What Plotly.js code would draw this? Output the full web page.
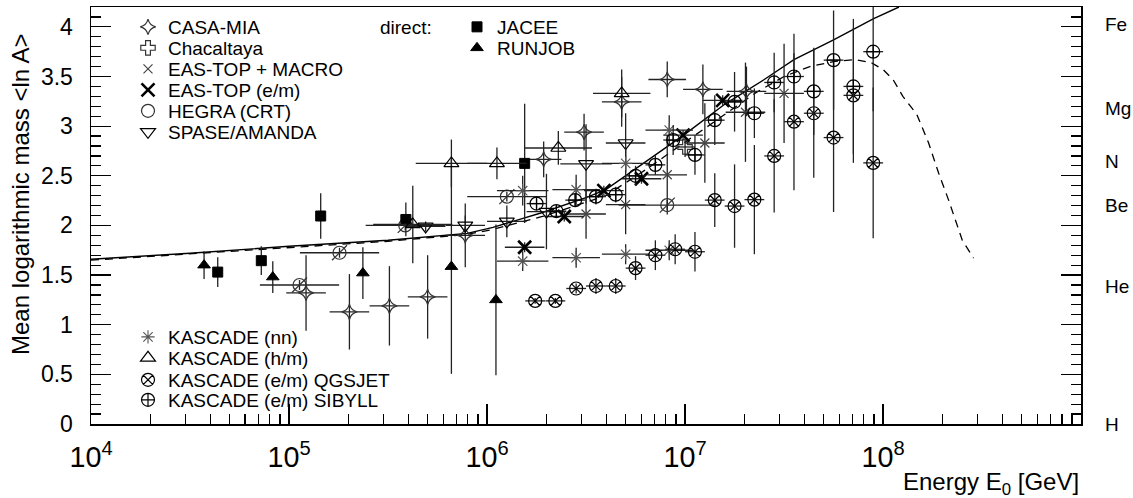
<!DOCTYPE html>
<html><head><meta charset="utf-8">
<script src="https://cdn.plot.ly/plotly-3.0.1.min.js"></script>
<style>html,body{margin:0;padding:0;background:#fff}#chart{width:1133px;height:498px}</style>
</head><body><div id="chart"></div>
<script>
// ---- data (log10 of energy in GeV, mean ln A, half-widths) ----
const casaLogE = [5.086, 5.305, 5.507, 5.70, 5.89, 6.286, 6.49, 6.68, 6.91, 7.09, 7.31];
const casaLnA  = [1.32, 1.13, 1.19, 1.28, 1.90, 2.665, 2.94, 3.245, 3.47, 3.37, 3.35];
const casaDx   = [0.1, 0.1, 0.1, 0.1, 0.1, 0.09, 0.1, 0.1, 0.095, 0.1, 0.1];
const casaDy   = [0.38, 0.38, 0.40, 0.42, 0.32, 0.18, 0.185, 0.25, 0.18, 0.25, 0.25];

const chacLogE = [7.0];
const chacLnA  = [2.79];
const chacDx   = [0.05];
const chacDy   = [0.1];

const macroLogE = [6.50, 6.70, 6.91, 7.10, 7.305, 7.50];
const macroLnA  = [2.115, 2.21, 2.51, 2.83, 3.14, 3.33];
const macroDx   = [0.1, 0.1, 0.1, 0.1, 0.1, 0.1];
const macroDy   = [0.25, 0.3, 0.4, 0.4, 0.5, 0.5];

const emLogE = [6.19, 6.39, 6.59, 6.78, 6.99, 7.19];
const emLnA  = [1.78, 2.09, 2.35, 2.47, 2.91, 3.26];
const emDx   = [0.1, 0.1, 0.1, 0.1, 0.1, 0.1];
const emDy   = [0.05, 0.05, 0.05, 0.05, 0.05, 0.05];

const hegraLogE = [5.053, 5.255, 5.587, 6.10, 6.91];
const hegraLnA  = [1.40, 1.725, 2.0, 2.29, 2.205];
const hegraDx   = [0.2, 0.2, 0.2, 0.2, 0.245];
const hegraDy   = [0.05, 0.05, 0.05, 0.05, 0.05];

const spaseLogE = [5.69, 5.89, 6.10, 6.30, 6.50, 6.70];
const spaseLnA  = [1.99, 2.0, 2.04, 2.14, 2.62, 2.83];
const spaseDx   = [0.1, 0.1, 0.1, 0.1, 0.13, 0.1];
const spaseDy   = [0.05, 0.1, 0.16, 0.38, 0.4, 0.3];

const jaceeLogE = [4.64, 4.86, 5.16, 5.59, 6.19];
const jaceeLnA  = [1.53, 1.645, 2.095, 2.06, 2.625];
const jaceeDy   = [0.15, 0.145, 0.23, 0.17, 0.6];

const runjobLogE = [4.571, 4.918, 5.373, 5.82, 6.045];
const runjobLnA  = [1.60, 1.48, 1.52, 1.585, 1.25];
const runjobDy   = [0.14, 0.16, 0.26, 1.08, 0.76];

const nnLogE = [6.18, 6.45, 6.70, 6.92, 6.18, 6.45, 6.70, 6.92];
const nnLnA  = [2.35, 2.36, 2.625, 2.96, 1.64, 1.675, 1.71, 1.75];
const nnDx   = [0.13, 0.12, 0.12, 0.12, 0.13, 0.12, 0.12, 0.12];
const nnDy   = [0.15, 0.15, 0.15, 0.15, 0.1, 0.1, 0.1, 0.1];

const hmLogE = [5.625, 5.82, 6.05, 6.36, 6.68];
const hmLnA  = [2.01, 2.625, 2.625, 2.78, 3.33];
const hmDx   = [0.2, 0.18, 0.15, 0.17, 0.145];
const hmDy   = [0.39, 0.24, 0.16, 0.17, 0.24];

const qgsLogE = [6.243, 6.345, 6.45, 6.55, 6.65, 6.75, 6.85, 6.95, 7.05, 7.15, 7.25, 7.35, 7.45, 7.55, 7.65, 7.75, 7.85, 7.95];
const qgsLnA  = [1.24, 1.24, 1.365, 1.39, 1.39, 1.57, 1.70, 1.76, 1.735, 2.255, 2.195, 2.26, 2.70, 3.045, 3.13, 2.885, 3.31, 2.63];
const qgsDy   = [0.03, 0.03, 0.05, 0.08, 0.08, 0.12, 0.15, 0.15, 0.2, 0.27, 0.42, 0.55, 0.57, 0.69, 0.65, 0.75, 0.68, 0.76];

const sibLogE = [6.25, 6.35, 6.445, 6.55, 6.65, 6.75, 6.85, 6.94, 7.05, 7.15, 7.25, 7.35, 7.45, 7.55, 7.65, 7.75, 7.85, 7.95];
const sibLnA  = [2.22, 2.145, 2.255, 2.29, 2.31, 2.50, 2.61, 2.86, 2.71, 3.06, 3.245, 3.13, 3.44, 3.50, 3.35, 3.665, 3.40, 3.75];
const sibDy   = [0.05, 0.05, 0.06, 0.08, 0.08, 0.1, 0.1, 0.15, 0.2, 0.25, 0.3, 0.25, 0.3, 0.43, 0.44, 0.5, 0.68, 0.6];

const emHalfWidth = 0.05;

const solidLogE = [4.0, 4.5, 5.0, 5.5, 5.9, 6.03, 6.28, 6.5, 6.6, 6.8, 7.0, 7.2, 7.4, 7.55, 7.75, 7.95, 8.05, 8.08];
const solidLnA  = [1.66, 1.72, 1.79, 1.85, 1.92, 1.98, 2.13, 2.28, 2.36, 2.64, 2.92, 3.22, 3.47, 3.67, 3.87, 4.08, 4.17, 4.2];
const dashLogE = [4.0, 5.0, 5.5, 5.9, 6.03, 6.28, 6.5, 6.6, 6.8, 7.0, 7.2, 7.36, 7.5, 7.63, 7.75, 7.86, 7.94, 8.0, 8.05, 8.1, 8.17, 8.23, 8.28, 8.33, 8.4, 8.457];
const dashLnA  = [1.65, 1.78, 1.84, 1.91, 1.96, 2.09, 2.23, 2.30, 2.56, 2.84, 3.12, 3.34, 3.5, 3.6, 3.65, 3.67, 3.64, 3.57, 3.47, 3.3, 3.12, 2.83, 2.53, 2.26, 1.85, 1.67];

const elemNames = ["H", "He", "Be", "N", "Mg", "Fe"];
const elemLnA   = [0, 1.386, 2.197, 2.639, 3.178, 4.025];

// ---- helpers ----
const toE = a => a.map(v => Math.pow(10, v));
function errX(logE, dx) {
  const d = Array.isArray(dx) ? dx : logE.map(() => dx);
  return {
    type: 'data', symmetric: false,
    array: logE.map((v, i) => Math.pow(10, v + d[i]) - Math.pow(10, v)),
    arrayminus: logE.map((v, i) => Math.pow(10, v) - Math.pow(10, v - d[i])),
    width: 0, thickness: 1.3, color: '#222'
  };
}
function errY(dy) { return {type: 'data', array: dy, width: 0, thickness: 1.3, color: '#222'}; }
function pts(name, logE, lnA, dx, dy, symbol, size, color, lw, legend, show) {
  const t = {
    type: 'scatter', mode: 'markers', name: name,
    x: toE(logE), y: lnA,
    marker: {symbol: symbol, size: size, color: color, line: {color: color, width: lw}},
    legend: legend, showlegend: show !== false, hoverinfo: 'skip'
  };
  if (dy) t.error_y = errY(dy);
  if (dx) t.error_x = errX(logE, dx);
  return t;
}

const traces = [
  {type: 'scatter', mode: 'lines', x: toE(solidLogE), y: solidLnA, line: {color: '#000', width: 1.4}, showlegend: false, hoverinfo: 'skip'},
  {type: 'scatter', mode: 'lines', x: toE(dashLogE), y: dashLnA, line: {color: '#000', width: 1.3, dash: '8px,6px'}, showlegend: false, hoverinfo: 'skip'},
  pts('CASA-MIA', casaLogE, casaLnA, casaDx, casaDy, 'star-diamond-open', 11, '#333', 1.2, 'legend'),
  pts('Chacaltaya', chacLogE, chacLnA, chacDx, chacDy, 'cross-open', 12, '#333', 1.2, 'legend2'),
  pts('EAS-TOP + MACRO', macroLogE, macroLnA, macroDx, macroDy, 'x-thin-open', 9, '#444', 1.2, 'legend3'),
  pts('EAS-TOP (e/m)', emLogE, emLnA, emDx, emDy, 'x-thin-open', 13, '#000', 2.6, 'legend4'),
  pts('HEGRA (CRT)', hegraLogE, hegraLnA, hegraDx, hegraDy, 'circle-open', 13, '#333', 1.2, 'legend5'),
  pts('HEGRA slash', hegraLogE, hegraLnA, null, null, 'line-ne-open', 15, '#333', 1.2, 'legend5', false),
  pts('SPASE/AMANDA', spaseLogE, spaseLnA, spaseDx, spaseDy, 'triangle-down-open', 13, '#000', 1.2, 'legend6'),
  pts('JACEE', jaceeLogE, jaceeLnA, null, jaceeDy, 'square', 10, '#000', 1, 'legend7'),
  pts('RUNJOB', runjobLogE, runjobLnA, null, runjobDy, 'triangle-up', 11, '#000', 1, 'legend8'),
  pts('KASCADE (nn)', nnLogE, nnLnA, nnDx, nnDy, 'asterisk-open', 11, '#555', 1.1, 'legend9'),
  pts('KASCADE (h/m)', hmLogE, hmLnA, hmDx, hmDy, 'triangle-up-open', 13, '#000', 1.2, 'legend10'),
  pts('KASCADE (e/m) QGSJET', qgsLogE, qgsLnA, emHalfWidth, qgsDy, 'circle-x-open', 13, '#000', 1.2, 'legend11'),
  pts('KASCADE (e/m) SIBYLL', sibLogE, sibLnA, emHalfWidth, sibDy, 'circle-cross-open', 13, '#000', 1.2, 'legend12')
];

const W = 1133, H = 498, L = 91, R = 52, T = 7, B = 74;
const pw = W - L - R, ph = H - T - B;
const px = v => (v - L) / pw;          // pixel x -> paper
const py = v => (H - B - v) / ph;      // pixel y -> paper
const font = 'Liberation Sans, Arial, Helvetica, sans-serif';
const legendBase = {bgcolor: 'rgba(0,0,0,0)', borderwidth: 0, font: {family: font, size: 19, color: '#000'},
  xanchor: 'left', yanchor: 'middle', itemclick: false, itemdoubleclick: false};
// legend rows: [left px, row centre px]
const legendPos = [[128, 27], [128, 48], [128, 69], [128, 90], [128, 111], [128, 132],
                   [457, 27], [457, 48],
                   [128, 337], [128, 358], [128, 380], [128, 400]];

const annotations = [
  {text: 'Mean logarithmic mass &lt;ln A&gt;', xref: 'paper', yref: 'paper', x: px(20), y: py(195), textangle: -90,
   xanchor: 'center', yanchor: 'middle', showarrow: false, font: {family: font, size: 24, color: '#000'}},
  {text: 'Energy E<sub>0</sub> [GeV]', xref: 'paper', yref: 'paper', x: 1, y: py(483), xanchor: 'right', yanchor: 'middle',
   showarrow: false, font: {family: font, size: 24, color: '#000'}},
  {text: 'direct:', xref: 'paper', yref: 'paper', x: px(378), y: py(27), xanchor: 'left', yanchor: 'middle',
   showarrow: false, font: {family: font, size: 19, color: '#000'}}
];
elemNames.forEach((n, i) => annotations.push({text: n, xref: 'paper', yref: 'y', x: px(1103), y: elemLnA[i],
  xanchor: 'left', yanchor: 'middle', showarrow: false, font: {family: font, size: 19, color: '#000'}}));

const layout = {
  width: W, height: H, margin: {l: L, r: R, t: T, b: B, pad: 0},
  paper_bgcolor: '#fff', plot_bgcolor: '#fff', showlegend: true,
  font: {family: font, color: '#000'},
  xaxis: {type: 'log', range: [4, 8.9995], dtick: 1, exponentformat: 'power', showgrid: false, zeroline: false,
    showline: true, linecolor: '#000', linewidth: 1.5, mirror: true, ticks: 'inside', ticklen: 20, tickwidth: 1.2,
    tickcolor: '#000', tickfont: {family: font, size: 23, color: '#000'}, ticklabelstandoff: 8,
    minor: {ticks: 'inside', ticklen: 10, tickwidth: 1.2, tickcolor: '#000', dtick: 'D1', showgrid: false}},
  yaxis: {range: [0, 4.2], dtick: 0.5, showgrid: false, zeroline: false, showline: true, linecolor: '#000', linewidth: 1.5,
    mirror: 'ticks', ticks: 'inside', ticklen: 20, tickwidth: 1.2, tickcolor: '#000',
    tickfont: {family: font, size: 23, color: '#000'}, ticklabelstandoff: 12,
    minor: {ticks: 'inside', ticklen: 10, tickwidth: 1.2, tickcolor: '#000', dtick: 0.1, showgrid: false}},
  annotations: annotations
};
legendPos.forEach((p, i) => {
  layout[i === 0 ? 'legend' : 'legend' + (i + 1)] = Object.assign({}, legendBase, {x: px(p[0]), y: py(p[1])});
});

Plotly.newPlot('chart', traces, layout, {staticPlot: true, displayModeBar: false});
</script></body></html>
